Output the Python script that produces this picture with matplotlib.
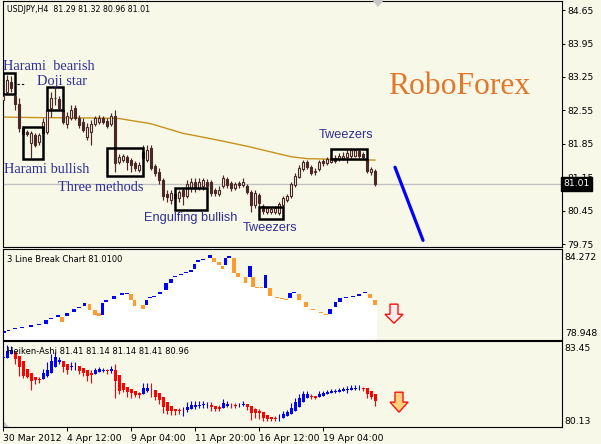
import numpy as np
import matplotlib
matplotlib.use("Agg")
import matplotlib.pyplot as plt
from matplotlib.patches import Rectangle, Polygon
from matplotlib.transforms import blended_transform_factory

# USDJPY H4 candles, oldest first
opens = [
    82.77, 82.94, 83.15, 82.85, 82.69, 82.18, 82.10, 81.87, 82.04, 81.89,
    82.08, 82.10, 82.60, 82.80, 82.79, 82.56, 82.27, 82.39, 82.60, 82.39,
    82.31, 81.99, 82.10, 82.27, 82.31, 82.39, 82.33, 82.27, 82.43, 81.47,
    81.51, 81.57, 81.51, 81.45, 81.30, 81.55, 81.51, 81.76, 81.39, 81.26,
    81.09, 80.80, 80.67, 80.80, 80.71, 80.88, 80.76, 80.92, 81.05, 80.92,
    80.97, 81.05, 81.05, 80.88, 80.80, 80.97, 81.11, 81.03, 80.92, 81.03,
    80.99, 80.97, 80.84, 80.57, 80.78, 80.55, 80.42, 80.42, 80.42, 80.40,
    80.57, 80.67, 80.76, 80.99, 81.15, 81.32, 81.47, 81.36, 81.26, 81.32,
    81.49, 81.45, 81.47, 81.55, 81.53, 81.55, 81.57, 81.60, 81.60, 81.70,
    81.64, 81.53, 81.26, 81.29]
highs = [
    82.94, 83.29, 83.27, 82.89, 82.81, 82.22, 82.14, 82.12, 82.08, 82.08,
    82.39, 82.64, 82.94, 83.02, 82.85, 82.60, 82.52, 82.66, 82.66, 82.45,
    82.39, 82.29, 82.35, 82.43, 82.45, 82.43, 82.39, 82.50, 82.56, 81.64,
    81.64, 81.62, 81.55, 81.49, 81.47, 81.83, 81.83, 81.83, 81.43, 81.34,
    81.13, 80.88, 80.88, 80.84, 80.88, 80.92, 81.09, 81.13, 81.13, 81.13,
    81.13, 81.11, 81.09, 80.92, 80.97, 81.20, 81.15, 81.07, 81.05, 81.07,
    81.13, 81.01, 80.88, 80.88, 80.82, 80.59, 80.55, 80.53, 80.55, 80.63,
    80.76, 80.80, 81.05, 81.24, 81.41, 81.51, 81.51, 81.41, 81.34, 81.51,
    81.53, 81.57, 81.60, 81.62, 81.66, 81.68, 81.72, 81.76, 81.74, 81.74,
    81.68, 81.57, 81.36, 81.32]
lows = [
    82.69, 82.89, 82.94, 82.56, 82.10, 82.01, 82.01, 81.55, 81.78, 81.83,
    82.04, 82.06, 82.41, 82.66, 82.56, 82.27, 82.18, 82.35, 82.35, 82.18,
    82.10, 81.93, 81.83, 82.22, 82.27, 82.27, 82.18, 82.22, 81.26, 81.43,
    81.47, 81.30, 81.26, 81.28, 81.26, 81.51, 81.47, 81.30, 81.18, 81.01,
    80.67, 80.63, 80.59, 80.61, 80.63, 80.57, 80.71, 80.84, 80.84, 80.88,
    80.88, 80.88, 80.76, 80.76, 80.76, 80.92, 80.92, 80.86, 80.88, 80.92,
    80.95, 80.80, 80.42, 80.50, 80.46, 80.38, 80.38, 80.38, 80.38, 80.36,
    80.53, 80.63, 80.71, 80.95, 81.13, 81.28, 81.32, 81.20, 81.20, 81.28,
    81.39, 81.41, 81.45, 81.45, 81.49, 81.51, 81.45, 81.55, 81.57, 81.55,
    81.53, 81.24, 81.20, 80.96]
closes = [
    82.85, 83.19, 83.02, 82.69, 82.18, 82.06, 82.06, 82.08, 81.83, 82.04,
    82.31, 82.56, 82.81, 82.81, 82.60, 82.31, 82.43, 82.56, 82.39, 82.24,
    82.14, 82.20, 82.27, 82.39, 82.39, 82.31, 82.22, 82.43, 81.45, 81.57,
    81.60, 81.47, 81.41, 81.34, 81.41, 81.68, 81.72, 81.34, 81.24, 81.09,
    80.76, 80.74, 80.82, 80.71, 80.84, 80.76, 81.01, 81.05, 80.92, 81.05,
    81.09, 80.97, 80.82, 80.82, 80.88, 81.13, 80.99, 80.92, 81.01, 80.99,
    81.05, 80.84, 80.57, 80.82, 80.61, 80.44, 80.50, 80.48, 80.50, 80.59,
    80.71, 80.76, 81.01, 81.18, 81.34, 81.47, 81.36, 81.24, 81.28, 81.47,
    81.45, 81.53, 81.53, 81.49, 81.60, 81.60, 81.66, 81.72, 81.72, 81.60,
    81.57, 81.28, 81.32, 81.01]

# moving average, sampled at a few bars
ma_bar = [0, 8, 24, 29, 37, 45, 53, 61, 68, 72, 76, 93]
ma_val = [82.41, 82.40, 82.39, 82.38, 82.27, 82.07, 81.94, 81.80, 81.66, 81.58, 81.54, 81.51]

# candlestick patterns: name, first bar, last bar, low, high
pattern_names = ["Harami bearish", "Harami bullish", "Doji star", "Three methods",
                 "Engulfing bullish", "Tweezers low", "Tweezers high"]
pattern_x0 = [0.1, 4.9, 10.9, 25.9, 43.0, 64.0, 82.0]
pattern_x1 = [3.0, 10.1, 14.9, 35.1, 51.1, 70.1, 91.0]
pattern_lo = [82.89, 81.53, 82.56, 81.18, 80.46, 80.27, 81.53]
pattern_hi = [83.34, 82.20, 83.05, 81.77, 80.93, 80.53, 81.74]

# forecast line (bar, price)
trend_bars = [98, 105]
trend_prices = [81.36, 79.83]

# 3 Line Break bricks
lb_pos = [0.4, 1.4, 3.0, 4.75, 7.0, 9.0, 10.75, 12.0, 13.75, 14.75,
          16.0, 17.75, 19.0, 20.4, 21.6, 23.0, 24.0, 24.9, 25.75, 27.75,
          29.75, 31.0, 32.0, 32.9, 35.0, 35.9, 36.75, 37.75, 39.25, 40.75,
          42.0, 43.0, 44.5, 45.75, 47.0, 47.9, 48.75, 50.0, 51.75, 52.75,
          54.0, 54.9, 55.6, 56.5, 57.75, 58.75, 60.6, 61.75, 62.5, 63.5,
          64.6, 65.6, 66.75, 68.5, 69.75, 70.75, 71.75, 72.75, 74.0, 75.75,
          77.5, 79.5, 80.75, 81.75, 83.1, 84.25, 85.75, 87.5, 89.0, 90.5,
          91.75, 93.0]
lb_low = [79.31, 79.46, 79.58, 79.64, 79.67, 79.82, 79.85, 80.17, 80.29, 79.97,
          80.32, 80.56, 80.83, 80.92, 80.68, 80.38, 80.32, 80.38, 81.16, 81.34,
          81.61, 81.64, 81.28, 80.92, 80.74, 80.98, 81.43, 81.49, 81.64, 81.88,
          82.30, 82.63, 82.75, 82.87, 82.96, 83.14, 83.55, 83.64, 83.79, 83.55,
          83.37, 83.14, 83.37, 83.79, 82.90, 82.66, 82.30, 82.66, 82.06, 82.00,
          81.97, 82.00, 81.52, 81.43, 81.37, 81.31, 81.40, 81.67, 81.28, 80.86,
          80.71, 80.53, 80.41, 80.44, 80.86, 81.16, 81.43, 81.49, 81.55, 81.67,
          81.40, 81.01]
lb_high = [79.43, 79.52, 79.64, 79.70, 79.79, 79.88, 80.09, 80.23, 80.38, 80.26,
           80.50, 80.74, 80.89, 81.10, 81.04, 80.68, 80.50, 81.10, 81.28, 81.52,
           81.67, 81.70, 81.64, 81.28, 80.98, 81.28, 81.49, 81.55, 81.76, 82.30,
           82.54, 82.69, 82.81, 82.93, 83.08, 83.43, 83.67, 83.70, 83.97, 83.79,
           83.55, 83.31, 83.79, 83.91, 83.79, 82.90, 82.66, 83.31, 82.66, 82.06,
           82.03, 82.78, 82.00, 81.49, 81.43, 81.37, 81.70, 81.73, 81.64, 81.16,
           80.77, 80.59, 80.47, 80.74, 81.16, 81.40, 81.49, 81.55, 81.61, 81.73,
           81.64, 81.28]
lb_up = [1, 1, 1, 1, 1, 1, 1, 1, 1, 0,
         1, 1, 1, 1, 0, 0, 0, 1, 1, 1,
         1, 1, 0, 0, 0, 1, 1, 1, 1, 1,
         1, 1, 1, 1, 1, 1, 1, 1, 1, 0,
         0, 0, 1, 1, 0, 0, 0, 1, 0, 0,
         0, 1, 0, 0, 0, 0, 1, 1, 0, 0,
         0, 0, 0, 1, 1, 1, 1, 1, 1, 1,
         0, 0]

date_bars = [0, 16, 32, 48, 64, 80]
date_labels = ["30 Mar 2012", "4 Apr 12:00", "9 Apr 04:00",
               "11 Apr 20:00", "16 Apr 12:00", "19 Apr 04:00"]

BG = "#F8F8E8"
CANDLE = "#4A2828"
TEXT_BLUE = "#2E2E96"
FONT = "DejaVu Sans"
W, H = 601, 444
XMAX = 139.75

plt.rcParams["font.family"] = FONT

fig = plt.figure(figsize=(W / 100, H / 100), dpi=100, facecolor=BG)


def panel(left, top, right, bottom):
    a = fig.add_axes([left / W, 1 - bottom / H, (right - left) / W, (bottom - top) / H])
    a.set_facecolor(BG)
    for sp in a.spines.values():
        sp.set_color("black")
        sp.set_linewidth(0.8)
    a.set_xlim(0, XMAX)
    a.set_xticks([])
    a.set_yticks([])
    return a


def down_arrow(a, xc, top, head, tip, face):
    # hollow signal arrow, 4.5 bars wide with a 2-bar shaft
    pts = [(xc - 1.0, top), (xc + 1.0, top), (xc + 1.0, head), (xc + 2.25, head),
           (xc, tip), (xc - 2.25, head), (xc - 1.0, head)]
    a.add_patch(Polygon(pts, closed=True, facecolor=face, edgecolor="#FF1010",
                        lw=1.0, zorder=6, clip_on=False))


o = np.array(opens)
h = np.array(highs)
l = np.array(lows)
c = np.array(closes)
idx = np.arange(len(c))

# ---- main price panel ----
ax = panel(3, 1, 562, 247.5)
ax.set_ylim(79.68, 84.84)
ax.yaxis.tick_right()
main_ticks = np.round(np.arange(79.75, 84.66, 0.70), 2)
ax.set_yticks(main_ticks)
ax.set_yticklabels([f"{t:.2f}" for t in main_ticks])
ax.tick_params(axis="y", direction="out", length=2.5, width=0.7, pad=1.5,
               labelsize=6.7, colors="black")

ax.axhline(c[-1], color="#C0C0C0", lw=0.9, zorder=1)
ax.plot(ma_bar, ma_val, color="#C8921A", lw=1.0, zorder=2)

ax.vlines(idx, l, h, color=CANDLE, lw=0.85, zorder=2)
up = c >= o
ax.bar(idx, np.maximum(np.abs(c - o), 0.006), bottom=np.minimum(o, c), width=0.6,
       color=[BG if u else CANDLE for u in up], edgecolor=CANDLE, lw=0.8, zorder=3)

for x0, x1, lo, hi in zip(pattern_x0, pattern_x1, pattern_lo, pattern_hi):
    ax.add_patch(Rectangle((x0, lo), x1 - x0, hi - lo, fill=False,
                           edgecolor="black", lw=1.8, zorder=5))
ax.plot([3.6, 5.2], [83.10, 83.10], color="black", lw=0.8, ls=(0, (2, 2)), zorder=5)

serif = dict(family="Liberation Serif", fontsize=10.4, color=TEXT_BLUE, va="center", zorder=6)
sans = dict(family="Liberation Sans", fontsize=9.2, color=TEXT_BLUE, va="center", zorder=6)
ax.text(0.0, 83.46, "Harami  bearish", **serif)
ax.text(8.5, 83.15, "Doji star", **serif)
ax.text(0.25, 81.32, "Harami bullish", **serif)
ax.text(13.75, 80.94, "Three methods", **serif)
ax.text(35.25, 80.30, "Engulfing bullish", **sans)
ax.text(60.0, 80.09, "Tweezers", **sans)
ax.text(79.0, 82.04, "Tweezers", **sans)
ax.text(96.25, 83.04, "RoboForex", family="Liberation Serif", fontsize=22.7,
        color="#E2762A", va="center")

ax.plot(trend_bars, trend_prices, color="#0000FF", lw=2.3, solid_capstyle="round", zorder=6)

ax.text(0.0072, 0.9635,
        f"USDJPY,H4  {o[-1]:.2f} {h[-1]:.2f} {l[-1]:.2f} {c[-1]:.2f}",
        transform=ax.transAxes, fontsize=5.7, va="center", ha="left")
ax.text(1.003, c[-1], f"{c[-1]:.2f}", color="white", fontsize=6.7, va="center", ha="left",
        transform=blended_transform_factory(ax.transAxes, ax.transData), clip_on=False,
        zorder=10, bbox=dict(facecolor="black", edgecolor="black", pad=1.6))

# ---- 3 Line Break panel ----
ax2 = panel(3, 249.5, 562, 339.5)
lb_lo_lim, lb_hi_lim = 78.948, 84.272
ax2.set_ylim(lb_lo_lim, lb_hi_lim)
pos = np.array(lb_pos)
edges = np.concatenate([[0.0], (pos[:-1] + pos[1:]) / 2, [pos[-1] + 0.5]])
ax2.stairs(lb_low, edges, baseline=lb_lo_lim, fill=True, color="white", zorder=1)
ax2.bar(lb_pos, np.array(lb_high) - np.array(lb_low), bottom=lb_low, width=0.9,
        color=["#0000FF" if u else "#FF9A30" for u in lb_up], lw=0, zorder=2)
ax2.text(0.0072, 0.894, f"3 Line Break Chart {lb_low[-1]:.4f}", transform=ax2.transAxes,
         fontsize=6.0, va="center", ha="left")
ax2.text(1.005, 1 - 3 / 90, f"{lb_hi_lim:.3f}", transform=ax2.transAxes, fontsize=6.7,
         va="top", ha="left")
ax2.text(1.005, 2 / 90, f"{lb_lo_lim:.3f}", transform=ax2.transAxes, fontsize=6.7,
         va="bottom", ha="left")
down_arrow(ax2, 97.75, 81.04, 80.44, 79.91, "#FFECEC")

# ---- Heiken-Ashi panel ----
ax3 = panel(3, 341, 562, 427.3)
ha_lo_lim, ha_hi_lim = 80.13, 83.45
ax3.set_ylim(ha_lo_lim, ha_hi_lim)
ha_close = (o + h + l + c) / 4
ha_open = np.empty_like(ha_close)
ha_open[0] = (o[0] + c[0]) / 2
for i in range(1, len(c)):
    ha_open[i] = (ha_open[i - 1] + ha_close[i - 1]) / 2
ha_high = np.maximum(h, np.maximum(ha_open, ha_close))
ha_low = np.minimum(l, np.minimum(ha_open, ha_close))
ha_col = ["#0000FF" if cl >= op else "#FF0000" for op, cl in zip(ha_open, ha_close)]
ax3.vlines(idx, ha_low, ha_high, colors=ha_col, lw=0.8, zorder=2)
ax3.bar(idx, np.maximum(np.abs(ha_close - ha_open), 0.01), bottom=np.minimum(ha_open, ha_close),
        width=0.75, color=ha_col, lw=0, zorder=3)
ax3.text(0.0072, 0.884, "Heiken-Ashi 81.41 81.14 81.14 81.41 80.96", transform=ax3.transAxes,
         fontsize=6.0, va="center", ha="left", zorder=5)
ax3.text(1.005, 1 - 3 / 86, f"{ha_hi_lim:.2f}", transform=ax3.transAxes, fontsize=6.7,
         va="top", ha="left")
ax3.text(1.005, 1.5 / 86, f"{ha_lo_lim:.2f}", transform=ax3.transAxes, fontsize=6.7,
         va="bottom", ha="left")
down_arrow(ax3, 99.0, 81.48, 81.10, 80.71, "#FFD27A")
# small grey corner mark
ax3.add_patch(Polygon([(0, 0), (0, 0.08), (0.011, 0)], closed=True, transform=ax3.transAxes,
                      facecolor="#C8C8C8", edgecolor="none"))

ax3.set_xticks(date_bars)
ax3.set_xticklabels(date_labels)
ax3.tick_params(axis="x", direction="out", length=3, width=0.7, pad=2, labelsize=6.7)
for lab in ax3.get_xticklabels():
    lab.set_horizontalalignment("left")

# chart shift marker at the top edge
fig.patches.append(Polygon([(372 / W, 1.0), (384 / W, 1.0), (378 / W, 1 - 7 / H)],
                           closed=True, transform=fig.transFigure,
                           facecolor="#C8C8C8", edgecolor="none"))

fig.savefig("out.png", dpi=100, facecolor=BG)
